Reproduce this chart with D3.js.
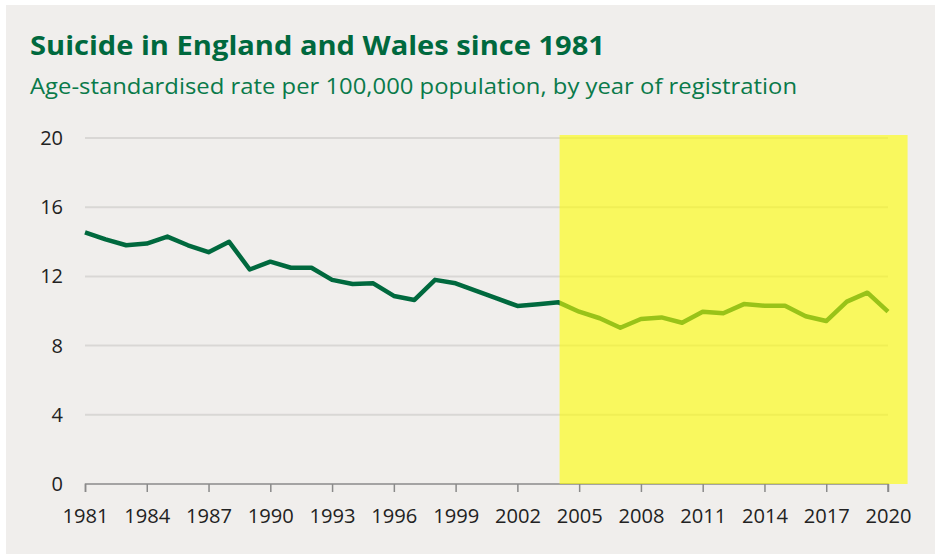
<!DOCTYPE html>
<html>
<head>
<meta charset="utf-8">
<script src="https://cdn.jsdelivr.net/npm/d3@7"></script>
<style>
  body { margin: 0; background: #fff; }
  svg { display: block; }
</style>
</head>
<body>
<svg width="941" height="559"></svg>
<script>
// data
var years = d3.range(1981, 2021);
var rates = [14.55, 14.14, 13.8, 13.9, 14.3, 13.8, 13.4, 14.0, 12.4, 12.85,
             12.5, 12.5, 11.8, 11.56, 11.6, 10.87, 10.64, 11.8, 11.6, 11.17,
             10.73, 10.29, 10.39, 10.5, 9.96, 9.58, 9.03, 9.54, 9.63, 9.32,
             9.96, 9.87, 10.4, 10.3, 10.3, 9.7, 9.42, 10.54, 11.06, 9.96];
var yTicks = [0, 4, 8, 12, 16, 20];
var xTicks = d3.range(1981, 2021, 3);
var highlight = [2004.05, 2021];

var svg = d3.select("svg"),
    margin = {top: 138, left: 85, right: 53, bottom: 75},
    width = 941 - margin.left - margin.right,
    height = 559 - margin.top - margin.bottom;

// panel
svg.append("rect")
  .attr("x", 6).attr("y", 5)
  .attr("width", 929).attr("height", 549)
  .attr("fill", "#f0eeec");

svg.append("text")
  .attr("x", 30).attr("y", 55)
  .attr("font-family", "Open Sans, sans-serif")
  .attr("font-weight", "bold")
  .attr("font-size", 27)
  .attr("fill", "#00693e")
  .attr("textLength", 575)
  .attr("lengthAdjust", "spacingAndGlyphs")
  .text("Suicide in England and Wales since 1981");

svg.append("text")
  .attr("x", 30).attr("y", 94)
  .attr("font-family", "Open Sans, sans-serif")
  .attr("font-size", 21)
  .attr("fill", "#0a7a4a")
  .attr("textLength", 767)
  .attr("lengthAdjust", "spacingAndGlyphs")
  .text("Age-standardised rate per 100,000 population, by year of registration");

var g = svg.append("g").attr("transform", "translate(" + margin.left + "," + margin.top + ")");

var x = d3.scaleLinear().domain([1981, 2020]).range([0, width]);
var y = d3.scaleLinear().domain([0, 20]).range([height, 0]);

// gridlines
g.append("g")
  .selectAll("line")
  .data(yTicks.filter(function(d) { return d > 0; }))
  .enter().append("line")
    .attr("x1", 0).attr("x2", width)
    .attr("y1", function(d) { return y(d); })
    .attr("y2", function(d) { return y(d); })
    .attr("stroke", "#d9d7d5")
    .attr("stroke-width", 2);

// y labels
g.append("g")
  .attr("font-family", "Open Sans, sans-serif")
  .attr("font-size", 20)
  .attr("fill", "#222")
  .attr("text-anchor", "end")
  .selectAll("text")
  .data(yTicks)
  .enter().append("text")
    .attr("x", -22)
    .attr("y", function(d) { return y(d); })
    .attr("dy", "0.35em")
    .text(function(d) { return d; });

// x axis
var xAxis = g.append("g")
  .attr("transform", "translate(0," + height + ")")
  .call(d3.axisBottom(x).tickValues(xTicks).tickFormat(d3.format("d")).tickSize(8).tickSizeOuter(0).tickPadding(17));
xAxis.select(".domain").attr("stroke", "#8a8a8a").attr("stroke-width", 1.5)
  .attr("d", "M0.5,8V0H" + width + "V8");
xAxis.selectAll(".tick line").attr("stroke", "#8a8a8a").attr("stroke-width", 1.5);
xAxis.selectAll(".tick text")
  .attr("font-family", "Open Sans, sans-serif")
  .attr("font-size", 20)
  .attr("fill", "#222")
  .attr("textLength", 46)
  .attr("lengthAdjust", "spacingAndGlyphs");

// line
var line = d3.line()
  .x(function(d, i) { return x(years[i]); })
  .y(function(d) { return y(d); });

g.append("path")
  .datum(rates)
  .attr("d", line)
  .attr("fill", "none")
  .attr("stroke", "#00693e")
  .attr("stroke-width", 4.5)
  .attr("stroke-linejoin", "round");

// yellow highlight box
g.append("rect")
  .attr("x", x(highlight[0]))
  .attr("y", y(20) - 3)
  .attr("width", x(highlight[1]) - x(highlight[0]) - 1)
  .attr("height", y(0) - y(20) + 3)
  .attr("fill", "#ffff00")
  .attr("fill-opacity", 0.6);
</script>
</body>
</html>
